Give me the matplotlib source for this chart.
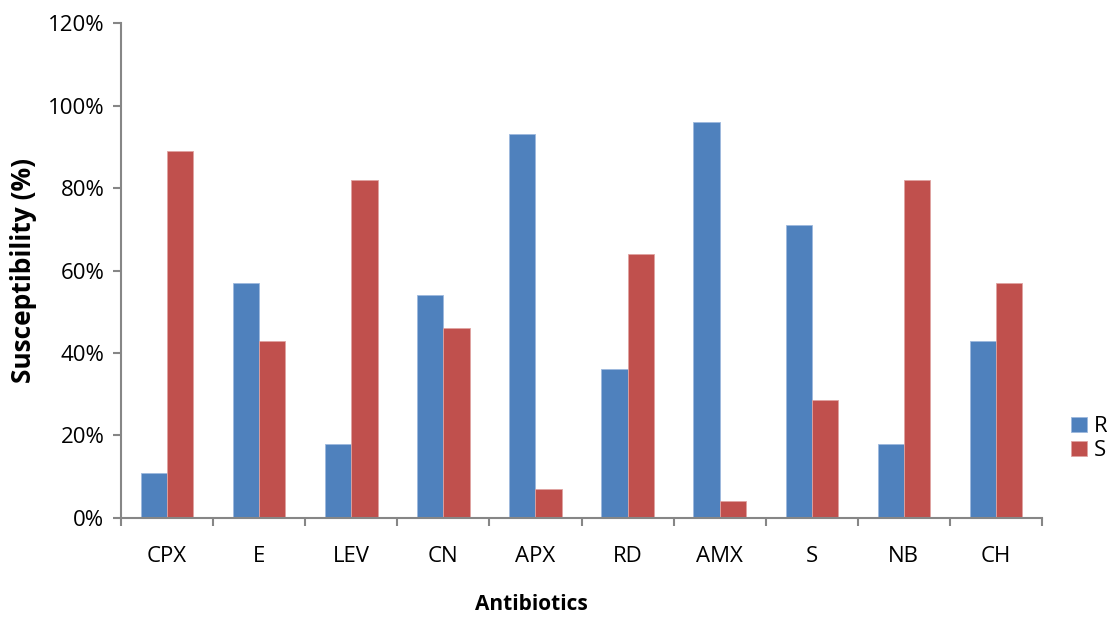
import matplotlib.pyplot as plt
import numpy as np
from matplotlib.ticker import FuncFormatter

antibiotics = ["CPX", "E", "LEV", "CN", "APX", "RD", "AMX", "S", "NB", "CH"]
resistant = [11, 57, 18, 54, 93, 36, 96, 71, 18, 43]
susceptible = [89, 43, 82, 46, 7, 64, 4, 28.6, 82, 57]

plt.rcParams['font.family'] = ['Open Sans', 'DejaVu Sans']

fig = plt.figure(figsize=(11.07, 6.19), dpi=100)
ax = fig.add_axes([0.1093, 0.1632, 0.832, 0.7996])

x = np.arange(len(antibiotics))
w = 0.285
ax.bar(x - w / 2, resistant, w, color="#4F81BD", edgecolor="#9DB9DE", linewidth=0.6, label="R")
ax.bar(x + w / 2, susceptible, w, color="#C0504D", edgecolor="#E0A3A1", linewidth=0.6, label="S")

ax.set_xlim(-0.5, len(antibiotics) - 0.5)
ax.set_ylim(0, 120)
ax.set_yticks(range(0, 121, 20))
ax.yaxis.set_major_formatter(FuncFormatter(lambda v, p: f"{int(v)}%"))

# category labels centred, tick marks on the boundaries
ax.set_xticks(x)
ax.set_xticklabels(antibiotics)
ax.set_xticks(np.arange(-0.5, len(antibiotics)), minor=True)
ax.tick_params(axis='x', which='major', length=0, pad=20, labelsize=16)
ax.tick_params(axis='x', which='minor', length=6, width=1.5, color="#868686")
ax.tick_params(axis='y', length=6, width=1.5, color="#868686", labelsize=16, pad=6)

for s in ["top", "right"]:
    ax.spines[s].set_visible(False)
for s in ["left", "bottom"]:
    ax.spines[s].set_color("#868686")
    ax.spines[s].set_linewidth(1.5)

fig.text(0.48, 1 - 605 / 619, "Antibiotics", fontsize=15, fontweight="bold",
         ha="center", va="center")
ax.set_ylabel("Susceptibility (%)", fontsize=19, fontweight="bold", labelpad=8)

ax.legend(loc="center left", bbox_to_anchor=(1.01, 0.16), frameon=False,
          fontsize=16, handlelength=0.7, handleheight=0.7, labelspacing=0.12,
          handletextpad=0.3)

fig.savefig("out.png", dpi=100)
